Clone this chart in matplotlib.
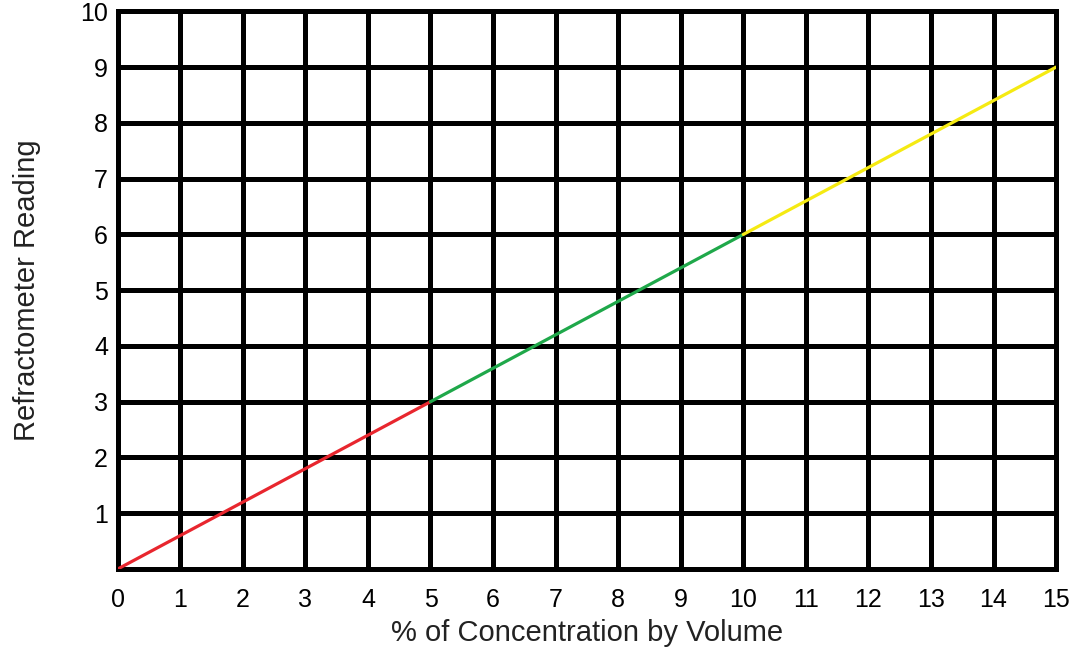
import matplotlib
matplotlib.use("Agg")
import matplotlib.pyplot as plt

plt.rcParams['font.family'] = ['Liberation Sans', 'DejaVu Sans']

# Data
seg_x = [[0, 5], [5, 10], [10, 15]]
seg_y = [[0, 3], [3, 6], [6, 9]]
seg_colors = ['#e8262e', '#1fa84a', '#f5ea12']
x_ticks = list(range(0, 16))
y_ticks = list(range(1, 11))

fig = plt.figure(figsize=(10.7, 6.53), dpi=100)
ax = fig.add_axes([0.110, 0.1286, 0.877, 0.854])
ax.set_xlim(0, 15)
ax.set_ylim(0, 10)

for xs, ys, c in zip(seg_x, seg_y, seg_colors):
    ax.plot(xs, ys, color=c, lw=2.3, solid_capstyle='round', zorder=3)

ax.set_xticks(x_ticks)
ax.set_yticks(y_ticks)
ax.set_xticklabels([str(v) for v in x_ticks])
ax.set_yticklabels([str(v) for v in y_ticks])
ax.tick_params(length=0, labelsize=18)
ax.tick_params(axis='x', pad=14)
ax.tick_params(axis='y', pad=7)
ax.grid(True, color='black', lw=3.6, zorder=1)
ax.set_axisbelow(True)
for s in ax.spines.values():
    s.set_linewidth(3.6)
    s.set_color('black')

ax.set_xlabel('% of Concentration by Volume', fontsize=21, color='#222222', labelpad=5)
ax.set_ylabel('Refractometer Reading', fontsize=21, color='#222222', labelpad=28)

fig.savefig('out.png', dpi=100)
